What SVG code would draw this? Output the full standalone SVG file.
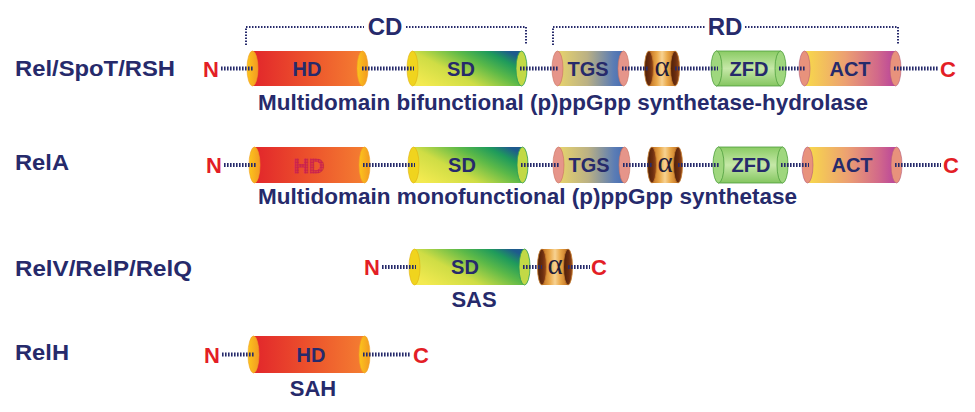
<svg xmlns="http://www.w3.org/2000/svg" width="975" height="412" viewBox="0 0 975 412">
<style>
.lab{font-family:"Liberation Sans",Arial,sans-serif;font-weight:bold;font-size:22px;fill:#262a6b}
.sub{font-family:"Liberation Sans",Arial,sans-serif;font-weight:bold;font-size:22px;fill:#262a6b}
.grp{font-family:"Liberation Sans",Arial,sans-serif;font-weight:bold;font-size:24px;fill:#262a6b;text-anchor:middle}
.dt{font-family:"Liberation Sans",Arial,sans-serif;font-weight:bold;font-size:20px;fill:#262a6b;text-anchor:middle}
.al{font-family:"Liberation Serif","Times New Roman",serif;font-size:29px;fill:#231c3a;text-anchor:middle}
.term{font-family:"Liberation Sans",Arial,sans-serif;font-weight:bold;font-size:22px;fill:#e31e26}
.link{stroke:#262a6b;stroke-width:4;stroke-dasharray:1.6 1.4;fill:none}
.brk{stroke:#262a6b;stroke-width:2;stroke-dasharray:1.5 1.5;fill:none}
.hd{fill:url(#hdBody)} .hdc{fill:url(#hdCap);stroke:#f0a020;stroke-width:0.6}
.sd{fill:url(#sdBody)} .sdl{fill:#f0d41e;stroke:#e0b010;stroke-width:0.6} .sdr{fill:#c2d946;stroke:#2a9a55;stroke-width:0.8}
.tgs{fill:url(#tgsBody)} .tgsc{fill:#e6958a;stroke:#c8705f;stroke-width:0.6}
.al-b{fill:url(#aBody)} .alc{fill:url(#aCap);stroke:#c77c2c;stroke-width:0.8}
.zfd{fill:url(#zfdBody);stroke:#4e9e3c;stroke-width:0.8} .zfdc{fill:#9fd77e;stroke:#4e9e3c;stroke-width:0.8}
.act{fill:url(#actBody)} .actc{fill:#e8927c;stroke:#b65a7a;stroke-width:0.6}
.dotted{font-family:"Liberation Sans",Arial,sans-serif;font-weight:bold;font-size:21px;fill:url(#dots);stroke:url(#dots);stroke-width:1;text-anchor:middle}
</style>
<defs>
<linearGradient id="hdBody" x1="0" y1="0" x2="1" y2="0"><stop offset="0" stop-color="#e2262b"/><stop offset="0.5" stop-color="#ec522c"/><stop offset="1" stop-color="#f47e31"/></linearGradient>
<linearGradient id="hdCap" x1="0" y1="0" x2="1" y2="0"><stop offset="0" stop-color="#fcc51c"/><stop offset="1" stop-color="#f39a22"/></linearGradient>
<linearGradient id="sdBody" x1="0" y1="0.8" x2="1" y2="0.2"><stop offset="0" stop-color="#f3ea50"/><stop offset="0.35" stop-color="#cfdd45"/><stop offset="0.65" stop-color="#5cb948"/><stop offset="0.85" stop-color="#1f9b5b"/><stop offset="1" stop-color="#1e5a8d"/></linearGradient>
<linearGradient id="tgsBody" x1="0" y1="0" x2="1" y2="0"><stop offset="0" stop-color="#e8d46c"/><stop offset="0.45" stop-color="#bbb184"/><stop offset="0.85" stop-color="#5a7cb5"/><stop offset="1" stop-color="#486eb2"/></linearGradient>
<linearGradient id="aBody" x1="0" y1="0" x2="1" y2="0"><stop offset="0" stop-color="#c06e22"/><stop offset="0.3" stop-color="#eaa94a"/><stop offset="0.5" stop-color="#f7d292"/><stop offset="0.7" stop-color="#eaa94a"/><stop offset="1" stop-color="#c06e22"/></linearGradient>
<linearGradient id="aCap" x1="0" y1="0" x2="1" y2="0"><stop offset="0" stop-color="#4e1f08"/><stop offset="0.6" stop-color="#6e2f10"/><stop offset="1" stop-color="#9a4d1a"/></linearGradient>
<linearGradient id="zfdBody" x1="0" y1="0" x2="0" y2="1"><stop offset="0" stop-color="#8acb64"/><stop offset="0.5" stop-color="#c6e8a8"/><stop offset="1" stop-color="#84c660"/></linearGradient>
<linearGradient id="actBody" x1="0" y1="0" x2="1" y2="0"><stop offset="0" stop-color="#f8da4a"/><stop offset="0.45" stop-color="#eca072"/><stop offset="0.8" stop-color="#d2698a"/><stop offset="1" stop-color="#b8449c"/></linearGradient>
<pattern id="dots" width="2.6" height="2.6" patternUnits="userSpaceOnUse"><circle cx="1.3" cy="1.3" r="1.2" fill="#c8204f"/></pattern>
</defs>

<g id="labels">
<text class="lab" x="15" y="76" textLength="160" lengthAdjust="spacingAndGlyphs">Rel/SpoT/RSH</text>
<text class="lab" x="15" y="170" textLength="54" lengthAdjust="spacingAndGlyphs">RelA</text>
<text class="lab" x="15" y="276" textLength="177" lengthAdjust="spacingAndGlyphs">RelV/RelP/RelQ</text>
<text class="lab" x="15" y="360" textLength="54" lengthAdjust="spacingAndGlyphs">RelH</text>
</g>

<g id="brackets">
<path class="brk" d="M246,45 V27 H364 M406,27 H526 V45"/>
<text class="grp" x="385" y="35">CD</text>
<path class="brk" d="M553,45 V27 H705 M745,27 H898 V45"/>
<text class="grp" x="725" y="35">RD</text>
</g>

<g id="subtitles">
<text class="sub" x="258" y="110" textLength="610" lengthAdjust="spacingAndGlyphs">Multidomain bifunctional (p)ppGpp synthetase-hydrolase</text>
<text class="sub" x="258" y="204" textLength="539" lengthAdjust="spacingAndGlyphs">Multidomain monofunctional (p)ppGpp synthetase</text>
<text class="sub" x="474" y="307" text-anchor="middle">SAS</text>
<text class="sub" x="313" y="396" text-anchor="middle">SAH</text>
</g>

<!-- Row 1 -->
<g id="r1-N"><text class="term" x="203" y="76.5">N</text></g>
<g id="r1-HD">
<rect class="hd" x="252.5" y="51" width="110" height="35"/>
<ellipse class="hdc" cx="252.5" cy="68.5" rx="5.5" ry="17.5"/>
<ellipse class="hdc" cx="362.5" cy="68.5" rx="5.5" ry="17.5"/>
<text class="dt" x="307" y="75.5">HD</text>
</g>
<g id="r1-SD">
<rect class="sd" x="412.5" y="51" width="109" height="35"/>
<ellipse class="sdl" cx="412.5" cy="68.5" rx="5.5" ry="17.5"/>
<ellipse class="sdr" cx="521.5" cy="68.5" rx="5.5" ry="17.5"/>
<text class="dt" x="461" y="75.5">SD</text>
</g>
<g id="r1-TGS">
<rect class="tgs" x="557.5" y="51" width="66" height="35"/>
<ellipse class="tgsc" cx="557.5" cy="68.5" rx="5.5" ry="17.5"/>
<ellipse class="tgsc" cx="623.5" cy="68.5" rx="5.5" ry="17.5"/>
<text class="dt" x="588" y="75.5">TGS</text>
</g>
<g id="r1-alpha">
<rect class="al-b" x="649" y="51" width="26" height="35"/>
<ellipse class="alc" cx="649" cy="68.5" rx="4.5" ry="17.5"/>
<ellipse class="alc" cx="675" cy="68.5" rx="4.5" ry="17.5"/>
<text class="al" x="662" y="75.5">α</text>
</g>
<g id="r1-ZFD">
<rect class="zfd" x="716.5" y="51" width="64" height="35"/>
<ellipse class="zfdc" cx="716.5" cy="68.5" rx="5.5" ry="17.5"/>
<ellipse class="zfdc" cx="780.5" cy="68.5" rx="5.5" ry="17.5"/>
<text class="dt" x="749" y="75.5">ZFD</text>
</g>
<g id="r1-ACT">
<rect class="act" x="804.5" y="51" width="91" height="35"/>
<ellipse class="actc" cx="804.5" cy="68.5" rx="5.5" ry="17.5"/>
<ellipse class="actc" cx="895.5" cy="68.5" rx="5.5" ry="17.5"/>
<text class="dt" x="850" y="75.5">ACT</text>
</g>
<g id="r1-C"><text class="term" x="940" y="76.5">C</text></g>

<!-- Row 2 -->
<g id="r2-N"><text class="term" x="206" y="173">N</text></g>
<g id="r2-HD">
<rect class="hd" x="254.5" y="147" width="110" height="36"/>
<ellipse class="hdc" cx="254.5" cy="165" rx="5.5" ry="18"/>
<ellipse class="hdc" cx="364.5" cy="165" rx="5.5" ry="18"/>
<text class="dotted" x="309" y="172.5">HD</text>
</g>
<g id="r2-SD">
<rect class="sd" x="413.5" y="147" width="109" height="36"/>
<ellipse class="sdl" cx="413.5" cy="165" rx="5.5" ry="18"/>
<ellipse class="sdr" cx="522.5" cy="165" rx="5.5" ry="18"/>
<text class="dt" x="462" y="172">SD</text>
</g>
<g id="r2-TGS">
<rect class="tgs" x="558.5" y="147" width="66" height="36"/>
<ellipse class="tgsc" cx="558.5" cy="165" rx="5.5" ry="18"/>
<ellipse class="tgsc" cx="624.5" cy="165" rx="5.5" ry="18"/>
<text class="dt" x="589" y="172">TGS</text>
</g>
<g id="r2-alpha">
<rect class="al-b" x="652" y="147" width="26" height="36"/>
<ellipse class="alc" cx="652" cy="165" rx="4.5" ry="18"/>
<ellipse class="alc" cx="678" cy="165" rx="4.5" ry="18"/>
<text class="al" x="665" y="172">α</text>
</g>
<g id="r2-ZFD">
<rect class="zfd" x="718.5" y="147" width="64" height="36"/>
<ellipse class="zfdc" cx="718.5" cy="165" rx="5.5" ry="18"/>
<ellipse class="zfdc" cx="782.5" cy="165" rx="5.5" ry="18"/>
<text class="dt" x="751" y="172">ZFD</text>
</g>
<g id="r2-ACT">
<rect class="act" x="807.5" y="147" width="89" height="36"/>
<ellipse class="actc" cx="807.5" cy="165" rx="5.5" ry="18"/>
<ellipse class="actc" cx="896.5" cy="165" rx="5.5" ry="18"/>
<text class="dt" x="852" y="172">ACT</text>
</g>
<g id="r2-C"><text class="term" x="943" y="173">C</text></g>

<!-- Row 3 -->
<g id="r3-N"><text class="term" x="364" y="275">N</text></g>
<g id="r3-SD">
<rect class="sd" x="414.5" y="249" width="110" height="36"/>
<ellipse class="sdl" cx="414.5" cy="267" rx="5.5" ry="18"/>
<ellipse class="sdr" cx="524.5" cy="267" rx="5.5" ry="18"/>
<text class="dt" x="465" y="274">SD</text>
</g>
<g id="r3-alpha">
<rect class="al-b" x="542" y="249" width="26" height="36"/>
<ellipse class="alc" cx="542" cy="267" rx="4.5" ry="18"/>
<ellipse class="alc" cx="568" cy="267" rx="4.5" ry="18"/>
<text class="al" x="555" y="274">α</text>
</g>
<g id="r3-C"><text class="term" x="591" y="275">C</text></g>

<!-- Row 4 -->
<g id="r4-N"><text class="term" x="204" y="362.5">N</text></g>
<g id="r4-HD">
<rect class="hd" x="253.5" y="336" width="111" height="37"/>
<ellipse class="hdc" cx="253.5" cy="354.5" rx="5.5" ry="18.5"/>
<ellipse class="hdc" cx="364.5" cy="354.5" rx="5.5" ry="18.5"/>
<text class="dt" x="311" y="361.5">HD</text>
</g>
<g id="r4-C"><text class="term" x="413" y="362.5">C</text></g>

<g id="connectors">
<path class="link" d="M221,68.5H254 M362,68.5H414 M520,68.5H559 M622,68.5H649 M675,68.5H718 M779,68.5H806 M894,68.5H938"/>
<path class="link" d="M224,165H256 M363,165H415 M521,165H560 M623,165H652 M678,165H720 M781,165H809 M895,165H941"/>
<path class="link" d="M382,267H416 M523,267H542 M568,267H590"/>
<path class="link" d="M222,354.5H255 M363,354.5H411"/>
</g>
</svg>
